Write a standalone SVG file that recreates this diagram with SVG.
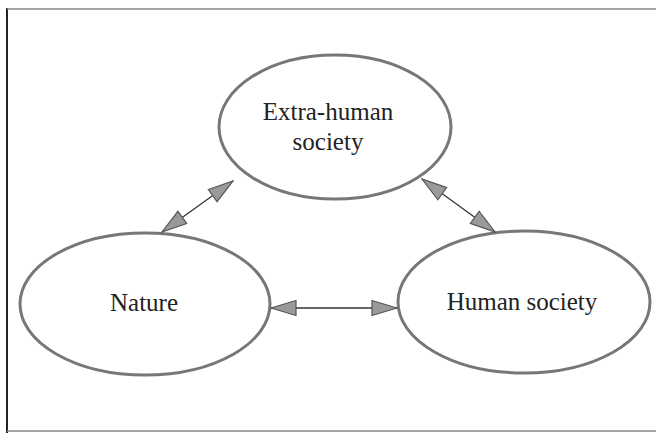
<svg xmlns="http://www.w3.org/2000/svg" width="656" height="433" viewBox="0 0 656 433">
<defs>
<marker id="ah" viewBox="0 0 27 18" refX="26" refY="9" markerWidth="27" markerHeight="18" markerUnits="userSpaceOnUse" orient="auto-start-reverse">
<path d="M1,1.5 L26,9 L1,16.5 Z" fill="#9a9a9a" stroke="#555" stroke-width="1.2"/>
</marker>
</defs>
<style>
.node ellipse{fill:#fff;stroke:#777;stroke-width:3}
.node text{font-family:"Liberation Serif","Times New Roman",serif;font-size:25px;fill:#222;text-anchor:middle}
.conn line{stroke:#333;stroke-width:1.3;marker-start:url(#ah);marker-end:url(#ah)}
.frame{fill:none}
</style>
<rect width="656" height="433" fill="#fff"/>
<g id="frame">
<line class="frame" x1="7" y1="8" x2="7" y2="433" stroke="#222" stroke-width="2"/>
<line class="frame" x1="7" y1="9" x2="656" y2="9" stroke="#888" stroke-width="1.5"/>
<line class="frame" x1="7" y1="431" x2="656" y2="431" stroke="#888" stroke-width="1.5"/>
</g>
<g id="extra-human" class="node">
<ellipse cx="335" cy="127" rx="116" ry="72"/>
<text x="328" y="120">Extra-human</text>
<text x="328" y="150">society</text>
</g>
<g id="nature" class="node">
<ellipse cx="145" cy="304" rx="125" ry="71"/>
<text x="144" y="311">Nature</text>
</g>
<g id="human-society" class="node">
<ellipse cx="524" cy="302" rx="126" ry="71"/>
<text x="522" y="310">Human society</text>
</g>
<g id="connectors" class="conn">
<line x1="162" y1="232" x2="233" y2="181"/>
<line x1="422" y1="179" x2="495" y2="232"/>
<line x1="271" y1="308" x2="397" y2="308"/>
</g>
</svg>
